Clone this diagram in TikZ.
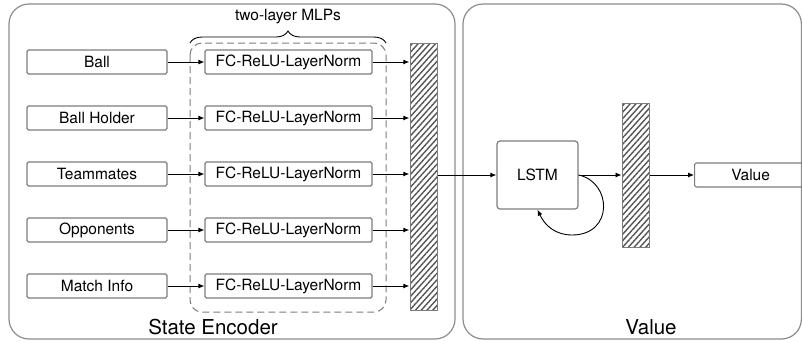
\documentclass[tikz,border=0pt]{standalone}
\usepackage{fontspec}
\setmainfont{TeX Gyre Heros}
\usepackage{xcolor}
\usepackage{tikz}
\usetikzlibrary{arrows.meta}
\usetikzlibrary{patterns.meta}
\usetikzlibrary{decorations.pathreplacing}
\usetikzlibrary{positioning}

\definecolor{framegray}{RGB}{140,140,140}
\definecolor{boxgray}{RGB}{125,125,125}
\definecolor{hatchgray}{RGB}{85,85,85}

\tikzset{
  inbox/.style={draw=boxgray,line width=1.2pt,rounded corners=1.5pt,minimum width=140pt,minimum height=24pt,inner sep=0pt,font=\fontsize{15.5}{18}\selectfont},
  mlpbox/.style={inbox,minimum width=167pt},
  hatchbar/.style={draw=boxgray,line width=1pt,minimum width=27pt,inner sep=0pt,
    pattern={Lines[angle=48,distance=4.3pt,line width=1.4pt]},pattern color=hatchgray},
  flow/.style={-{Latex[length=6pt,width=5pt]},line width=0.9pt},
  panel/.style={draw=framegray,line width=1.2pt,rounded corners=20pt},
}

\begin{document}
\begin{tikzpicture}[x=1pt,y=-1pt]
       \useasboundingbox (0,0) rectangle (802,341);
       % panels
       \draw[panel] (9,4) rectangle (455,339);
       \draw[panel] (463,4) rectangle (801.4,339);
       \node[font=\fontsize{20.5}{24}\selectfont] (enctitle) at (213,327) {State Encoder};
       \node[font=\fontsize{20.5}{24}\selectfont] (valtitle) at (651,327) {Value};
       % two-layer MLPs
       \draw[boxgray,line width=1pt,dash pattern=on 7pt off 4pt,rounded corners=12pt] (190,43) rectangle (386,312);
       \draw[line width=0.9pt,decorate,decoration={brace,amplitude=12pt}] (190,43) -- (386,43);
       \node[font=\fontsize{15.5}{18}\selectfont] (mlptitle) at (288,17) {two-layer MLPs};
       % inputs
       \node[inbox] (ball) at (97,62) {Ball};
       \node[inbox] (holder) at (97,118) {Ball Holder};
       \node[inbox] (mates) at (97,174) {Teammates};
       \node[inbox] (opps) at (97,230) {Opponents};
       \node[inbox] (info) at (97,286) {Match Info};
       \node[mlpbox] (fc1) at (288.5,62) {FC-ReLU-LayerNorm};
       \node[mlpbox] (fc2) at (288.5,118) {FC-ReLU-LayerNorm};
       \node[mlpbox] (fc3) at (288.5,174) {FC-ReLU-LayerNorm};
       \node[mlpbox] (fc4) at (288.5,230) {FC-ReLU-LayerNorm};
       \node[mlpbox] (fc5) at (288.5,286) {FC-ReLU-LayerNorm};
       \node[hatchbar,minimum height=267pt] (enc) at (423.5,176.5) {};
       \draw[flow] (ball) -- (fc1);
       \draw[flow] (holder) -- (fc2);
       \draw[flow] (mates) -- (fc3);
       \draw[flow] (opps) -- (fc4);
       \draw[flow] (info) -- (fc5);
       \draw[flow] (fc1.east) -- (fc1.east -| enc.west);
       \draw[flow] (fc2.east) -- (fc2.east -| enc.west);
       \draw[flow] (fc3.east) -- (fc3.east -| enc.west);
       \draw[flow] (fc4.east) -- (fc4.east -| enc.west);
       \draw[flow] (fc5.east) -- (fc5.east -| enc.west);
       % value head
       \node[inbox,minimum width=81pt,minimum height=68pt,rounded corners=3pt] (lstm) at (537.5,175) {LSTM};
       \node[hatchbar,minimum height=144pt] (hid) at (635.5,175) {};
       \node[inbox,minimum width=112pt,anchor=west] (value) at (694,175) {Value};
       \draw[flow] (enc.east |- lstm.west) -- (lstm.west);
       \draw[flow] (lstm.east) -- (hid.west);
       \draw[flow] (hid.east) -- (value.west);
       \draw[flow] (lstm.east) .. controls (612,182) and (614,235) .. (572,235) .. controls (556,235) and (545,226) .. (lstm.south);
     \end{tikzpicture}
\end{document}
